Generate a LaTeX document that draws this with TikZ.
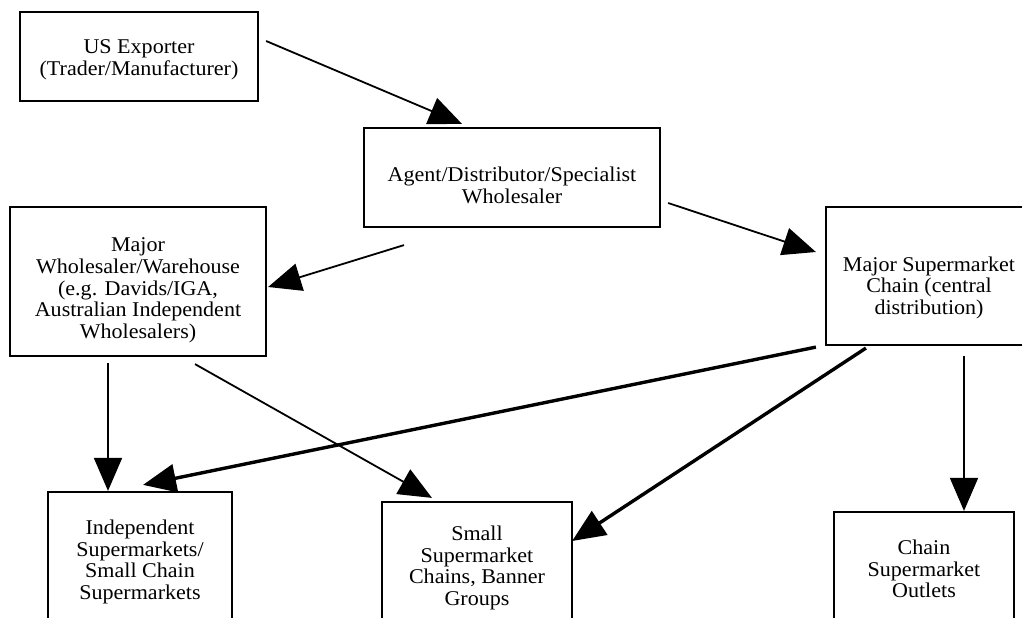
\documentclass[tikz,border=0pt]{standalone}
\usepackage{fontspec}
\setmainfont[FakeStretch=1.05]{Liberation Serif}
\usetikzlibrary{arrows.meta}
\newcommand{\textdrop}[1]{\rule{0pt}{#1}}

\begin{document}
\begin{tikzpicture}[x=1pt,y=-1pt,thick,
	main node/.style={draw,line width=2.2pt,align=center,font=\fontsize{21}{21.7}\selectfont},
	every edge/.style={draw,line width=1.8pt,-{Triangle[length=33pt,width=28pt]}},
	bold edge/.style={line width=3.4pt}]
		\useasboundingbox (0,0) rectangle (1022,626);
		\clip (0,0) rectangle (1022,617);
		\node[main node,minimum width=238pt,minimum height=89pt] (1) at (139,56.5) {\textdrop{21pt}US Exporter\\(Trader/Manufacturer)};
		\node[main node,minimum width=296pt,minimum height=99pt] (2) at (512,177.5) {\textdrop{31pt}Agent/Distributor/Specialist\\Wholesaler};
		\node[main node,minimum width=256pt,minimum height=149pt] (3) at (138,281.5) {\textdrop{32pt}Major\\Wholesaler/Warehouse\\(e.g. Davids/IGA,\\Australian Independent\\Wholesalers)};
		\node[main node,minimum width=206pt,minimum height=138pt] (4) at (929,276) {\textdrop{38pt}Major Supermarket\\Chain (central\\distribution)};
		\node[main node,minimum width=184pt,minimum height=140pt] (5) at (140,562) {Independent\\Supermarkets/\\Small Chain\\Supermarkets};
		\node[main node,minimum width=190pt,minimum height=132pt] (6) at (477,568) {Small\\Supermarket\\Chains, Banner\\Groups};
		\node[main node,minimum width=180pt,minimum height=114pt] (7) at (924,569) {Chain\\Supermarket\\Outlets};
		\path
		([xshift=7pt,yshift=15.5pt]1.east) edge ([xshift=-50pt,yshift=3pt]2.north)
		([xshift=-108pt,yshift=-17pt]2.south) edge ([xshift=1pt,yshift=-5.5pt]3.east)
		([xshift=7pt,yshift=-25.5pt]2.east) edge ([xshift=-9pt,yshift=24pt]4.west)
		([xshift=-30pt,yshift=-6pt]3.south) edge ([xshift=-32pt]5.north)
		([xshift=57pt,yshift=-7pt]3.south) edge ([xshift=-45pt,yshift=3pt]6.north)
		([xshift=35pt,yshift=-10pt]4.south) edge ([xshift=40pt]7.north);
		\path[every edge/.append style={bold edge}]
		([xshift=-9pt,yshift=-1pt]4.south west) edge ([xshift=3pt,yshift=6pt]5.north)
		([xshift=41pt,yshift=-2pt]4.south west) edge ([xshift=-1pt,yshift=27pt]6.east);
		\end{tikzpicture}
\end{document}
